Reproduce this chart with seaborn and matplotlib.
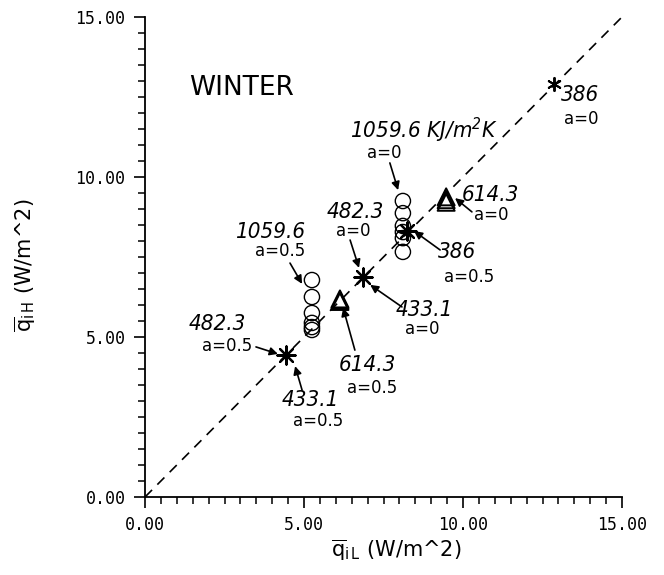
import matplotlib
matplotlib.use("Agg")
import matplotlib.pyplot as plt
import seaborn as sns
from matplotlib.ticker import MultipleLocator, FormatStrFormatter
from matplotlib import font_manager

# ---------------- data ----------------
diag_x = [0.0, 15.0]
diag_y = [0.0, 15.0]

# open circles (1059.6 KJ/m2K)
circ_a0_x = [8.11, 8.11, 8.11, 8.11, 8.11, 8.11]
circ_a0_y = [9.25, 8.87, 8.47, 8.28, 8.09, 7.66]
circ_a05_x = [5.25, 5.25, 5.25, 5.25, 5.25, 5.25]
circ_a05_y = [6.78, 6.25, 5.75, 5.44, 5.31, 5.22]

# asterisks (386, 433.1, 482.3)
star_big_x = [8.25, 6.85, 4.42]
star_big_y = [8.30, 6.87, 4.45]
star_small_x = [12.85]
star_small_y = [12.90]

# triangles (614.3)
tri_a0_x = [9.47, 9.47, 9.47]
tri_a0_y = [9.38, 9.29, 9.21]
tri_a05_x = [6.13, 6.13, 6.13]
tri_a05_y = [6.19, 6.15, 6.11]

# annotations
num_labels = ["386", "482.3", "614.3", "386", "433.1", "1059.6", "482.3", "433.1", "614.3"]
alpha_labels = ["a=0", "a=0", "a=0", "a=0.5", "a=0", "a=0.5", "a=0.5", "a=0.5", "a=0.5"]
num_pos = [(13.68, 12.56), (6.60, 8.91), (10.85, 9.44), (9.81, 7.66), (8.77, 5.84),
           (3.93, 8.28), (2.26, 5.41), (5.19, 3.03), (6.98, 4.13)]
alpha_pos = [(13.71, 11.81), (6.54, 8.31), (10.88, 8.81), (10.19, 6.88), (8.71, 5.25),
             (4.25, 7.69), (2.58, 4.72), (5.44, 2.38), (7.14, 3.41)]
arrow_from = [None, (6.45, 8.03), (10.28, 8.91), (9.28, 7.72), (8.08, 5.94),
              (4.56, 7.31), (3.49, 4.69), (4.94, 3.34), (6.60, 4.59)]
arrow_to = [None, (6.73, 7.16), (9.75, 9.34), (8.46, 8.31), (7.08, 6.63),
            (4.94, 6.66), (4.18, 4.47), (4.72, 4.09), (6.23, 5.91)]

kj_label = "1059.6 KJ/m$^{2}$K"
kj_pos = (8.77, 11.47)
kj_alpha = "a=0"
kj_alpha_pos = (7.52, 10.75)
kj_arrow_from = (7.70, 10.44)
kj_arrow_to = (7.96, 9.59)

title_text = "WINTER"
title_pos = (3.05, 12.78)

x_ticks = [0, 5, 10, 15]

# ---------------- plot ----------------
sns.set_style("ticks")
plt.rcParams["mathtext.default"] = "regular"
plt.rcParams["font.family"] = ["DejaVu Sans"]
plt.rcParams["text.color"] = "black"
plt.rcParams["axes.labelcolor"] = "black"
plt.rcParams["xtick.color"] = "black"
plt.rcParams["ytick.color"] = "black"
plt.rcParams["axes.edgecolor"] = "black"

names = {f.name for f in font_manager.fontManager.ttflist}
if "Liberation Sans Narrow" in names:
    num_family = ["Liberation Sans Narrow", "DejaVu Sans"]
    num_stretch = "normal"
else:
    num_family = ["DejaVu Sans"]
    num_stretch = "condensed"
num_size = 16

fig = plt.figure(figsize=(6.64, 5.75), dpi=100)
ax = fig.add_axes([145 / 664, 1 - 497 / 575, 477 / 664, 480 / 575])

sns.lineplot(x=diag_x, y=diag_y, ax=ax, color="black", lw=1.2,
             linestyle=(0, (6, 4.5)), zorder=1)

sns.scatterplot(x=circ_a0_x + circ_a05_x, y=circ_a0_y + circ_a05_y, ax=ax,
                marker="o", s=120, facecolor="none", edgecolor="black",
                linewidth=1.0, zorder=3)
sns.scatterplot(x=star_big_x, y=star_big_y, ax=ax, marker=(8, 2, 0), s=170,
                color="black", linewidth=1.6, zorder=4)
sns.scatterplot(x=star_small_x, y=star_small_y, ax=ax, marker=(6, 2, 0), s=90,
                color="black", linewidth=1.4, zorder=4)
sns.scatterplot(x=tri_a0_x + tri_a05_x, y=tri_a0_y + tri_a05_y, ax=ax,
                marker="^", s=150, facecolor="none", edgecolor="black",
                linewidth=1.4, zorder=4)

num_font = dict(family=num_family, style="italic", fontsize=num_size,
                fontstretch=num_stretch, color="black")
alpha_font = dict(family=["DejaVu Sans"], fontsize=12, color="black")

for i in range(len(num_labels)):
    ax.text(*num_pos[i], num_labels[i], ha="center", va="center", **num_font)
    ax.text(*alpha_pos[i], alpha_labels[i], ha="center", va="center", **alpha_font)
    if arrow_from[i] is not None:
        ax.annotate("", xy=arrow_to[i], xytext=arrow_from[i],
                    arrowprops=dict(arrowstyle="-|>", color="black", lw=1.2,
                                    mutation_scale=12, shrinkA=0, shrinkB=0))

ax.text(*kj_pos, kj_label, ha="center", va="center", **num_font)
ax.text(*kj_alpha_pos, kj_alpha, ha="center", va="center", **alpha_font)
ax.annotate("", xy=kj_arrow_to, xytext=kj_arrow_from,
            arrowprops=dict(arrowstyle="-|>", color="black", lw=1.2,
                            mutation_scale=12, shrinkA=0, shrinkB=0))

ax.text(*title_pos, title_text, ha="center", va="center", fontsize=19,
        color="black")

ax.set_xlim(0, 15)
ax.set_ylim(0, 15)
ax.set_xticks(x_ticks)
ax.set_yticks(x_ticks)
ax.xaxis.set_minor_locator(MultipleLocator(0.5))
ax.yaxis.set_minor_locator(MultipleLocator(0.5))
ax.xaxis.set_major_formatter(FormatStrFormatter("%.2f"))
ax.yaxis.set_major_formatter(FormatStrFormatter("%.2f"))
ax.tick_params(which="major", direction="out", length=8, width=1.2, pad=6,
               labelsize=12, colors="black")
ax.tick_params(which="minor", direction="out", length=5, width=1.1, colors="black")
for lab in ax.get_xticklabels() + ax.get_yticklabels():
    lab.set_family("DejaVu Sans Mono")

sns.despine(ax=ax)
ax.spines["left"].set_linewidth(1.3)
ax.spines["bottom"].set_linewidth(1.3)

ax.set_xlabel(r"$\overline{\mathrm{q}}_{\mathrm{i\,L}}$ (W/m^2)", fontsize=15, color="black")
ax.set_ylabel(r"$\overline{\mathrm{q}}_{\mathrm{i\,H}}$ (W/m^2)", fontsize=15, color="black")
ax.xaxis.set_label_coords(0.526, -0.085)
ax.yaxis.set_label_coords(-0.225, 0.483)

fig.savefig("out.png", dpi=100)
